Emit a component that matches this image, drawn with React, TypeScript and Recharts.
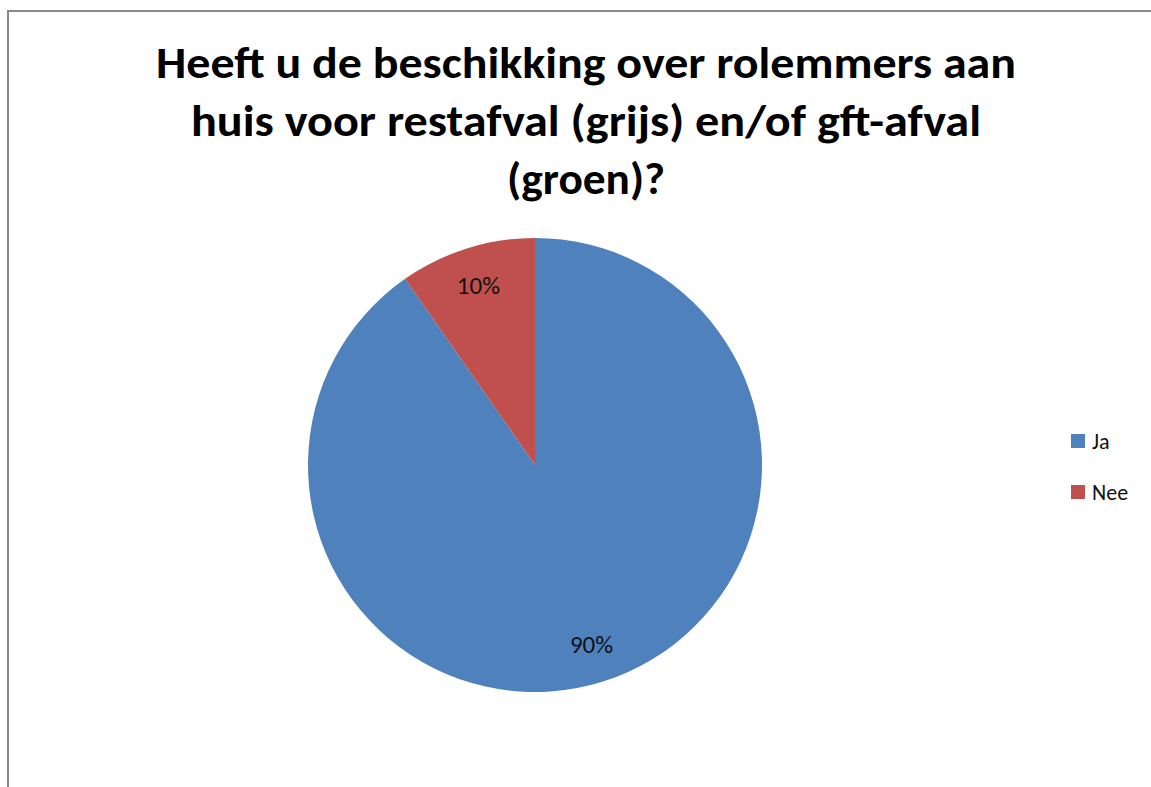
import React from "react";
import { PieChart, Pie, Cell, Legend } from "recharts";

const categories = ["Ja", "Nee"];
const values = [90.3, 9.7];
const colors = ["#4F81BD", "#C0504D"];
const titleLines = [
  "Heeft u de beschikking over rolemmers aan",
  "huis voor restafval (grijs) en/of gft-afval",
  "(groen)?",
];
const titleWidths = [860, 790, 158];
const titleBaselines = [78, 136, 194];

const data = categories.map((name, i) => ({ name, value: values[i] }));
const RAD = Math.PI / 180;
const FONT = "Carlito, Calibri, Lato, 'Open Sans', sans-serif";

const renderLabel = (props: any) => {
  const { cx, cy, midAngle, outerRadius, percent } = props;
  const r = outerRadius * 0.83;
  const x = cx + r * Math.cos(-midAngle * RAD);
  const y = cy + r * Math.sin(-midAngle * RAD);
  return (
    <text
      x={x}
      y={y}
      textAnchor="middle"
      dominantBaseline="central"
      fontFamily={FONT}
      fontSize={25}
      fill="#111"
    >
      {`${Math.round(percent * 100)}%`}
    </text>
  );
};

const renderLegend = () => (
  <div style={{ fontFamily: FONT, fontSize: 22, color: "#111" }}>
    {data.map((d, i) => (
      <div
        key={d.name}
        style={{ display: "flex", alignItems: "center", height: 26, marginBottom: i === 0 ? 25 : 0 }}
      >
        <span
          style={{
            display: "inline-block",
            width: 14,
            height: 14,
            background: colors[i],
            marginRight: 7,
          }}
        />
        <span>{d.name}</span>
      </div>
    ))}
  </div>
);

export default function App() {
  return (
    <div
      style={{
        position: "fixed",
        left: 0,
        top: 0,
        width: 1151,
        height: 787,
        overflow: "hidden",
        background: "#fff",
      }}
    >
      <div
        style={{
          position: "absolute",
          left: 7,
          top: 10,
          width: 1300,
          height: 1000,
          border: "2px solid #8a8a8a",
          boxSizing: "border-box",
        }}
      />
      <svg
        width={1151}
        height={220}
        style={{ position: "absolute", left: 0, top: 0 }}
      >
        {titleLines.map((t, i) => (
          <text
            key={i}
            x={586}
            y={titleBaselines[i]}
            textAnchor="middle"
            fontFamily={FONT}
            fontWeight="bold"
            fontSize={44}
            fill="#000"
            textLength={titleWidths[i]}
            lengthAdjust="spacingAndGlyphs"
          >
            {t}
          </text>
        ))}
      </svg>
      <div style={{ position: "absolute", left: 0, top: 0 }}>
        <PieChart width={1151} height={787} margin={{ top: 0, right: 0, bottom: 0, left: 0 }}>
          <Pie
            data={data}
            dataKey="value"
            nameKey="name"
            cx={535}
            cy={465}
            outerRadius={227}
            startAngle={90}
            endAngle={-270}
            stroke="none"
            label={renderLabel}
            labelLine={false}
            isAnimationActive={false}
          >
            {data.map((d, i) => (
              <Cell key={d.name} fill={colors[i]} />
            ))}
          </Pie>
          <Legend
            content={renderLegend}
            wrapperStyle={{ position: "absolute", left: 1071, top: 428, width: 80 }}
          />
        </PieChart>
      </div>
    </div>
  );
}
